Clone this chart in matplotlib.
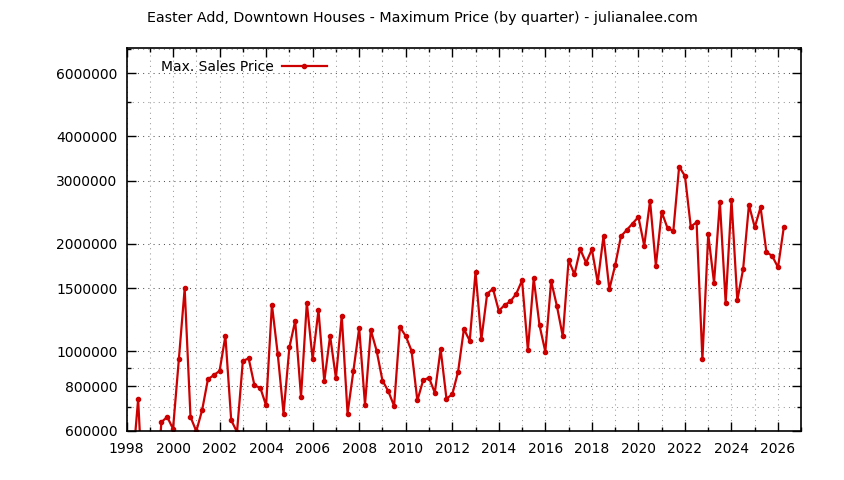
import numpy as np
import matplotlib
matplotlib.use("Agg")
from matplotlib import pyplot as plt
from matplotlib.ticker import FixedLocator, FuncFormatter, MultipleLocator

# quarter positions, first point is 1998 Q2 (1998.25)
quarters = np.arange(1998.25, 2026.26, 0.25)

# max sales price per quarter (values below 600000 are clipped)
max_price = [
    470000, 735000, 350000,                 # 1998
    420000, 380000, 634000, 656000,         # 1999
    607000, 950000, 1500000, 656000,        # 2000
    598000, 685000, 836000, 858000,         # 2001
    882000, 1104000, 642000, 595000,        # 2002
    941000, 956000, 803000, 791000,         # 2003
    706000, 1351000, 983000, 670000,        # 2004
    1026000, 1218000, 746000, 1368000,      # 2005
    950000, 1305000, 824000, 1106000,       # 2006
    842000, 1258000, 670000, 881000,        # 2007
    1162000, 709000, 1147000, 1004000,      # 2008
    829000, 774000, 704000, 1170000,        # 2009
    1104000, 1004000, 729000, 831000,       # 2010
    844000, 766000, 1015000, 738000,        # 2011
    758000, 877000, 1155000, 1071000,       # 2012
    1668000, 1080000, 1450000, 1497000,     # 2013
    1299000, 1348000, 1380000, 1450000,     # 2014
    1580000, 1008000, 1601000, 1183000,     # 2015
    998000, 1573000, 1337000, 1102000,      # 2016
    1802000, 1643000, 1931000, 1771000,     # 2017
    1931000, 1561000, 2104000, 1492000,     # 2018
    1741000, 2100000, 2187000, 2280000,     # 2019
    2378000, 1976000, 2636000, 1737000,     # 2020
    2456000, 2215000, 2173000, 3289000,     # 2021
    3097000, 2234000, 2298000, 950000,      # 2022
    2127000, 1557000, 2620000, 1368000,     # 2023
    2653000, 1390000, 1700000, 2570000,     # 2024
    2225000, 2532000, 1898000, 1849000,     # 2025
    1719000, 2230000,                       # 2026
]

y_major = [600000, 800000, 1000000, 1500000, 2000000, 3000000, 4000000, 6000000]
y_minor = [700000, 900000, 5000000, 7000000]

title = "Easter Add, Downtown Houses - Maximum Price (by quarter) - julianalee.com"

plt.rcParams['font.family'] = ['DejaVu Sans']
plt.rcParams['font.size'] = 10

fig = plt.figure(figsize=(8.44, 4.8), dpi=100)
ax = fig.add_axes([126.5/844, 1-430.7/480, (801.3-126.5)/844, (430.7-48.3)/480])

ax.plot(quarters, max_price, color='#cc0000', lw=1.6, marker='o', ms=3,
        label='Max. Sales Price', clip_on=True)

ax.set_yscale('log')
ax.set_xlim(1998, 2027)
ax.set_ylim(600000, 7050000)

ax.xaxis.set_major_locator(MultipleLocator(2))
ax.xaxis.set_minor_locator(MultipleLocator(1))
ax.yaxis.set_major_locator(FixedLocator(y_major))
ax.yaxis.set_minor_locator(FixedLocator(y_minor))
ax.yaxis.set_major_formatter(FuncFormatter(lambda v, p: "%d" % round(v)))
ax.yaxis.set_minor_formatter(FuncFormatter(lambda v, p: ""))
ax.xaxis.set_major_formatter(FuncFormatter(lambda v, p: "%d" % round(v)))

ax.tick_params(which='both', direction='in', top=True, right=True, color='black')
ax.tick_params(which='major', length=6.5, width=1, pad=6.5, labelsize=10)
ax.tick_params(which='minor', length=3.2, width=1)
ax.tick_params(axis='x', which='major', pad=8)

# gnuplot style dotted grid
dots = (0, (1, 4))
ax.grid(True, axis='x', which='both', color='#9a9a9a', lw=0.75, ls=dots)
ax.grid(True, axis='y', which='major', color='#555555', lw=0.75, ls=dots)
ax.grid(True, axis='y', which='minor', color='#9a9a9a', lw=0.75, ls=dots)
ax.set_axisbelow(True)
for sp in ax.spines.values():
    sp.set_linewidth(1.2)
    sp.set_color('black')

leg = ax.legend(loc='upper left', bbox_to_anchor=(161/844, 1-60/480),
                bbox_transform=fig.transFigure, frameon=False, markerfirst=False,
                handlelength=3.2, handletextpad=0.6, borderpad=0, borderaxespad=0,
                numpoints=1, fontsize=10)

fig.text(0.5, 1-18/480, title, ha='center', va='center', fontsize=10.3)

plt.savefig("out.png", dpi=100)
